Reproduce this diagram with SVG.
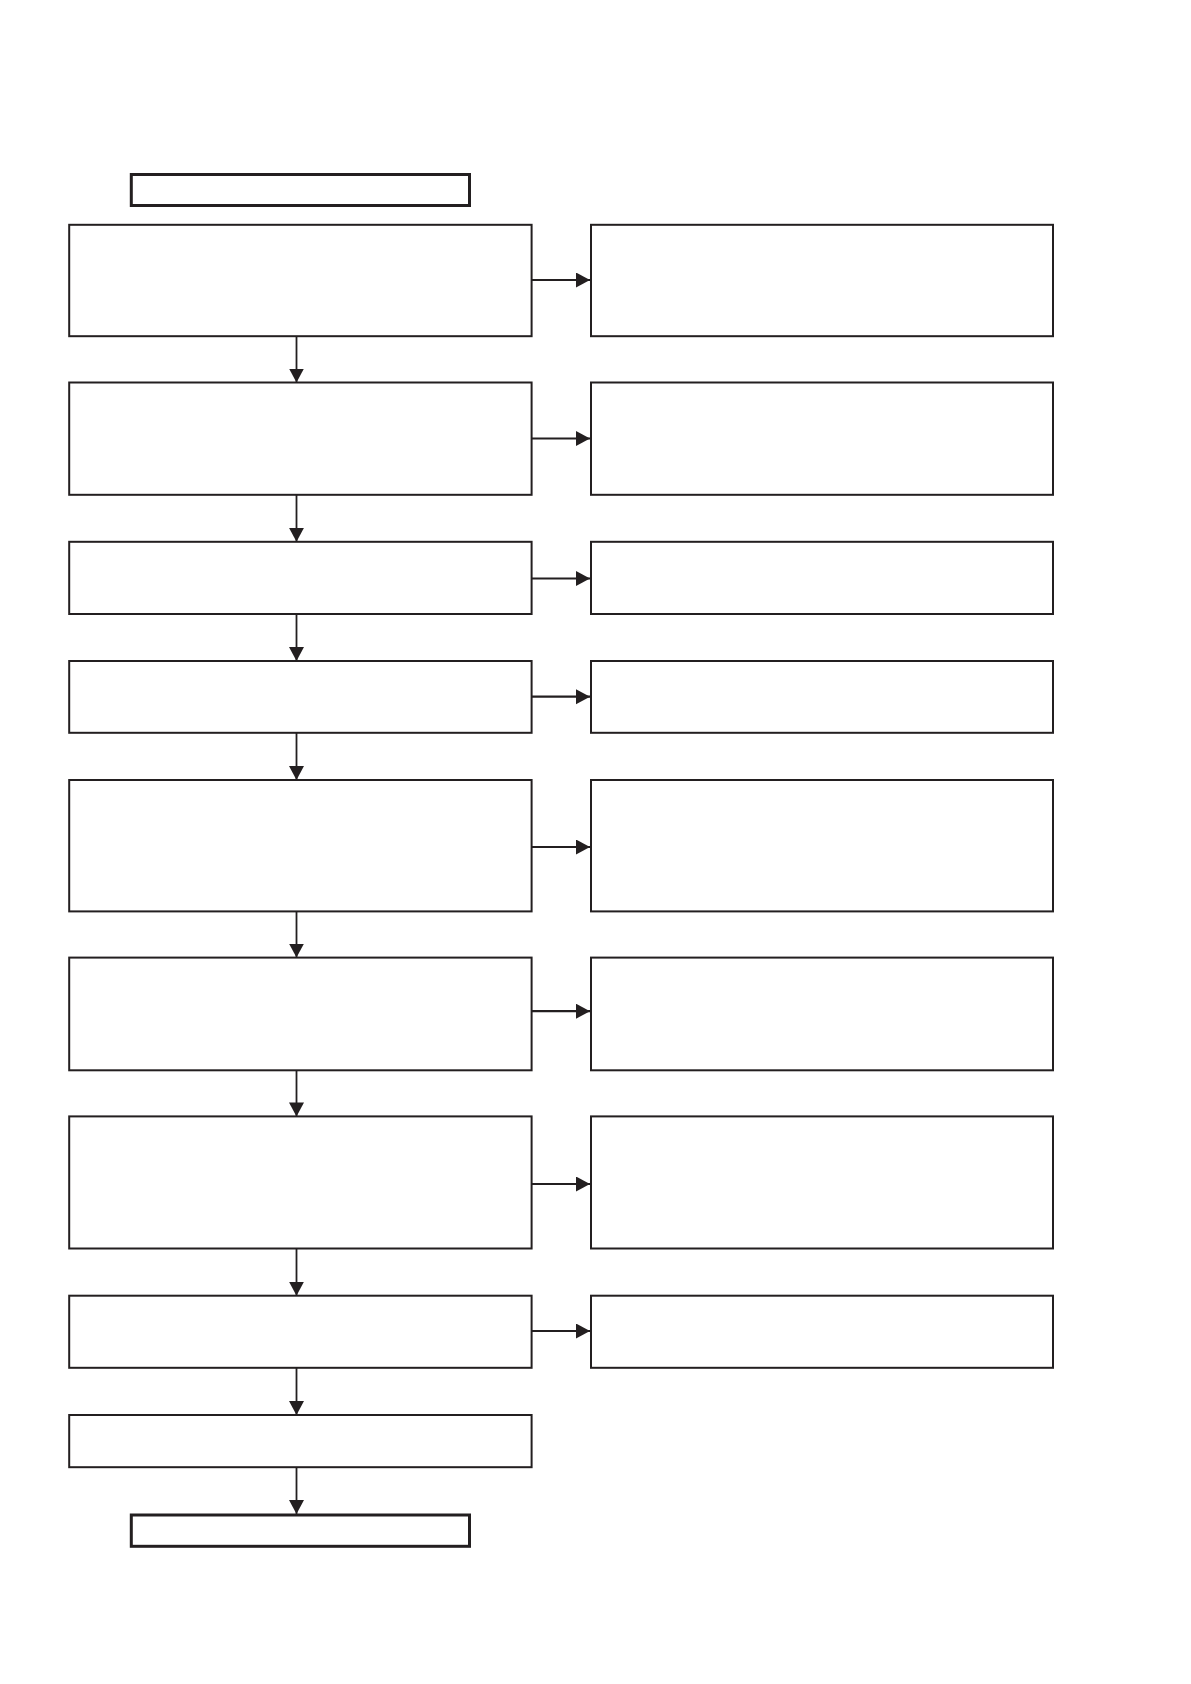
<svg xmlns="http://www.w3.org/2000/svg" width="1191" height="1684" viewBox="0 0 1191 1684">
  <style>
    .box { fill: #ffffff; stroke: #231f20; stroke-width: 2; }
    .term { fill: #ffffff; stroke: #231f20; stroke-width: 3; }
    .conn { fill: none; stroke: #231f20; stroke-width: 1.8; }
    .hconn { fill: none; stroke: #231f20; stroke-width: 2.2; }
  </style>
  <defs>
    <marker id="ah" markerUnits="userSpaceOnUse" markerWidth="16" markerHeight="16" refX="14" refY="7.5" orient="auto">
      <path d="M0,0 L14,7.5 L0,15 z" fill="#231f20"/>
    </marker>
  </defs>
  <rect width="1191" height="1684" fill="#ffffff"/>

  <g id="start"><rect class="term" x="131.3" y="174.5" width="338.2" height="31"/></g>

  <g id="L1"><rect class="box" x="69.2" y="224.8" width="462.4" height="111.4"/></g>
  <g id="R1"><rect class="box" x="591" y="224.8" width="462" height="111.4"/></g>
  <g id="L2"><rect class="box" x="69.2" y="382.5" width="462.4" height="112.3"/></g>
  <g id="R2"><rect class="box" x="591" y="382.5" width="462" height="112.3"/></g>
  <g id="L3"><rect class="box" x="69.2" y="541.8" width="462.4" height="72.2"/></g>
  <g id="R3"><rect class="box" x="591" y="541.8" width="462" height="72.2"/></g>
  <g id="L4"><rect class="box" x="69.2" y="661" width="462.4" height="71.8"/></g>
  <g id="R4"><rect class="box" x="591" y="661" width="462" height="71.8"/></g>
  <g id="L5"><rect class="box" x="69.2" y="780" width="462.4" height="131.4"/></g>
  <g id="R5"><rect class="box" x="591" y="780" width="462" height="131.4"/></g>
  <g id="L6"><rect class="box" x="69.2" y="957.6" width="462.4" height="112.7"/></g>
  <g id="R6"><rect class="box" x="591" y="957.6" width="462" height="112.7"/></g>
  <g id="L7"><rect class="box" x="69.2" y="1116.4" width="462.4" height="132.1"/></g>
  <g id="R7"><rect class="box" x="591" y="1116.4" width="462" height="132.1"/></g>
  <g id="L8"><rect class="box" x="69.2" y="1295.7" width="462.4" height="72.1"/></g>
  <g id="R8"><rect class="box" x="591" y="1295.7" width="462" height="72.1"/></g>
  <g id="L9"><rect class="box" x="69.2" y="1415" width="462.4" height="52.2"/></g>

  <g id="end"><rect class="term" x="131.3" y="1515" width="338.2" height="31.3"/></g>

  <g id="connectors">
    <line class="conn" x1="296.5" y1="336.2" x2="296.5" y2="382.5" marker-end="url(#ah)"/>
    <line class="conn" x1="296.5" y1="494.8" x2="296.5" y2="541.8" marker-end="url(#ah)"/>
    <line class="conn" x1="296.5" y1="614" x2="296.5" y2="661" marker-end="url(#ah)"/>
    <line class="conn" x1="296.5" y1="732.8" x2="296.5" y2="780" marker-end="url(#ah)"/>
    <line class="conn" x1="296.5" y1="911.4" x2="296.5" y2="957.6" marker-end="url(#ah)"/>
    <line class="conn" x1="296.5" y1="1070.3" x2="296.5" y2="1116.4" marker-end="url(#ah)"/>
    <line class="conn" x1="296.5" y1="1248.5" x2="296.5" y2="1295.7" marker-end="url(#ah)"/>
    <line class="conn" x1="296.5" y1="1367.8" x2="296.5" y2="1415" marker-end="url(#ah)"/>
    <line class="conn" x1="296.5" y1="1467.2" x2="296.5" y2="1514" marker-end="url(#ah)"/>

    <line class="hconn" x1="531.6" y1="280" x2="590" y2="280" marker-end="url(#ah)"/>
    <line class="hconn" x1="531.6" y1="438.5" x2="590" y2="438.5" marker-end="url(#ah)"/>
    <line class="hconn" x1="531.6" y1="578.5" x2="590" y2="578.5" marker-end="url(#ah)"/>
    <line class="hconn" x1="531.6" y1="696.7" x2="590" y2="696.7" marker-end="url(#ah)"/>
    <line class="hconn" x1="531.6" y1="847" x2="590" y2="847" marker-end="url(#ah)"/>
    <line class="hconn" x1="531.6" y1="1011.2" x2="590" y2="1011.2" marker-end="url(#ah)"/>
    <line class="hconn" x1="531.6" y1="1184" x2="590" y2="1184" marker-end="url(#ah)"/>
    <line class="hconn" x1="531.6" y1="1331" x2="590" y2="1331" marker-end="url(#ah)"/>
  </g>
</svg>
